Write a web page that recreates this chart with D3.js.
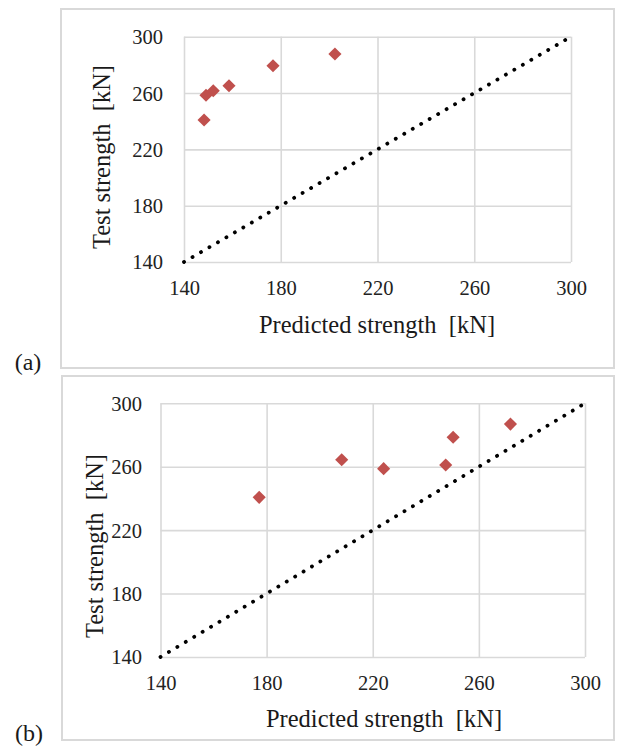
<!DOCTYPE html>
<html>
<head>
<meta charset="utf-8">
<script src="https://cdn.jsdelivr.net/npm/d3@7"></script>
<style>
  body { margin: 0; background: #fff; }
</style>
</head>
<body>
<div id="chart"></div>
<script>
// Reading the data off the two panels
var ticks = [140, 180, 220, 260, 300];
var panelLabels = ["(a)", "(b)"];

// Panel (a)
var predictedA = [148.3, 149.1, 152.1, 158.6, 176.8, 202.4];
var testA = [240.8, 258.4, 261.6, 265.2, 279.4, 287.7];

// Panel (b)
var predictedB = [177.2, 208.3, 224.1, 247.5, 250.3, 271.9];
var testB = [240.7, 264.4, 258.8, 261.1, 278.6, 286.9];

var serif = "'Liberation Serif', 'Times New Roman', serif";

// Setting the layout of both panels
var panels = [
    {
        label: panelLabels[0], x: predictedA, y: testA,
        box: { x0: 61, y0: 9, x1: 614, y1: 368 },
        plot: { left: 184, right: 571, top: 36.7, bottom: 262 },
        yPad: 21, xTitle: { x: 377, y: 333 }, yTitle: { x: 110, y: 157 },
        labelPos: { x: 28, y: 370 }
    },
    {
        label: panelLabels[1], x: predictedB, y: testB,
        box: { x0: 62, y0: 376, x1: 614, y1: 740 },
        plot: { left: 160.5, right: 585, top: 403.3, bottom: 657 },
        yPad: 18.5, xTitle: { x: 384, y: 727 }, yTitle: { x: 103, y: 546 },
        labelPos: { x: 29, y: 741 }
    }
];

var svg = d3.select("#chart")
    .append("svg")
    .attr("width", 617)
    .attr("height", 746)
    .style("font-family", serif);

panels.forEach(function (p) {
    // Outer frame
    svg.append("rect")
        .attr("x", p.box.x0)
        .attr("y", p.box.y0)
        .attr("width", p.box.x1 - p.box.x0)
        .attr("height", p.box.y1 - p.box.y0)
        .attr("fill", "#fff")
        .attr("stroke", "#d9d9d9")
        .attr("stroke-width", 2);

    var w = p.plot.right - p.plot.left;
    var h = p.plot.bottom - p.plot.top;

    var xScale = d3.scaleLinear().domain([140, 300]).range([0, w]);
    var yScale = d3.scaleLinear().domain([140, 300]).range([h, 0]);

    var g = svg.append("g")
        .attr("transform", "translate(" + p.plot.left + "," + p.plot.top + ")");

    // Grid + y axis labels
    var yAxis = g.append("g")
        .attr("class", "y axis")
        .call(d3.axisLeft(yScale).tickValues(ticks).tickSize(-w).tickPadding(p.yPad).tickFormat(d3.format("d")));
    yAxis.attr("font-family", null).attr("font-size", null);
    yAxis.select(".domain").remove();
    yAxis.selectAll("line").attr("stroke", "#d9d9d9").attr("stroke-width", 1.6);
    yAxis.selectAll("text").style("font-family", serif).attr("font-size", 20.5).attr("fill", "#222").attr("dy", "0.34em");

    // Grid + x axis labels
    var xAxis = g.append("g")
        .attr("class", "x axis")
        .attr("transform", "translate(0," + h + ")")
        .call(d3.axisBottom(xScale).tickValues(ticks).tickSize(-h).tickPadding(19).tickFormat(d3.format("d")));
    xAxis.attr("font-family", null).attr("font-size", null);
    xAxis.select(".domain").remove();
    xAxis.selectAll("line").attr("stroke", "#d9d9d9").attr("stroke-width", 1.6);
    xAxis.selectAll("text").style("font-family", serif).attr("font-size", 20.5).attr("fill", "#222").attr("dy", "0.7em");

    // 1:1 dotted line
    g.append("line")
        .attr("x1", xScale(140)).attr("y1", yScale(140))
        .attr("x2", xScale(300)).attr("y2", yScale(300))
        .attr("stroke", "#000")
        .attr("stroke-width", 3.8)
        .attr("stroke-linecap", "round")
        .attr("stroke-dasharray", "0.1 9.7");

    // Diamond markers
    var pts = p.x.map(function (d, i) { return { x: d, y: p.y[i] }; });
    g.selectAll(".pt")
        .data(pts)
        .enter()
        .append("path")
        .attr("class", "pt")
        .attr("d", d3.symbol(d3.symbolSquare, 86))
        .attr("transform", function (d) { return "translate(" + xScale(d.x) + "," + yScale(d.y) + ") rotate(45)"; })
        .attr("fill", "#c0504d");

    // Axis titles
    svg.append("text")
        .attr("x", p.xTitle.x)
        .attr("y", p.xTitle.y)
        .attr("text-anchor", "middle")
        .attr("font-size", 24.5)
        .attr("fill", "#1a1a1a")
        .style("font-family", serif)
        .style("white-space", "pre")
        .text("Predicted strength  [kN]");

    svg.append("text")
        .attr("transform", "translate(" + p.yTitle.x + "," + p.yTitle.y + ") rotate(-90)")
        .attr("text-anchor", "middle")
        .attr("font-size", 24.5)
        .attr("fill", "#1a1a1a")
        .style("font-family", serif)
        .style("white-space", "pre")
        .text("Test strength  [kN]");

    // Panel label
    svg.append("text")
        .attr("x", p.labelPos.x)
        .attr("y", p.labelPos.y)
        .attr("text-anchor", "middle")
        .attr("font-size", 24)
        .attr("fill", "#1a1a1a")
        .style("font-family", serif)
        .text(p.label);
});
</script>
</body>
</html>
